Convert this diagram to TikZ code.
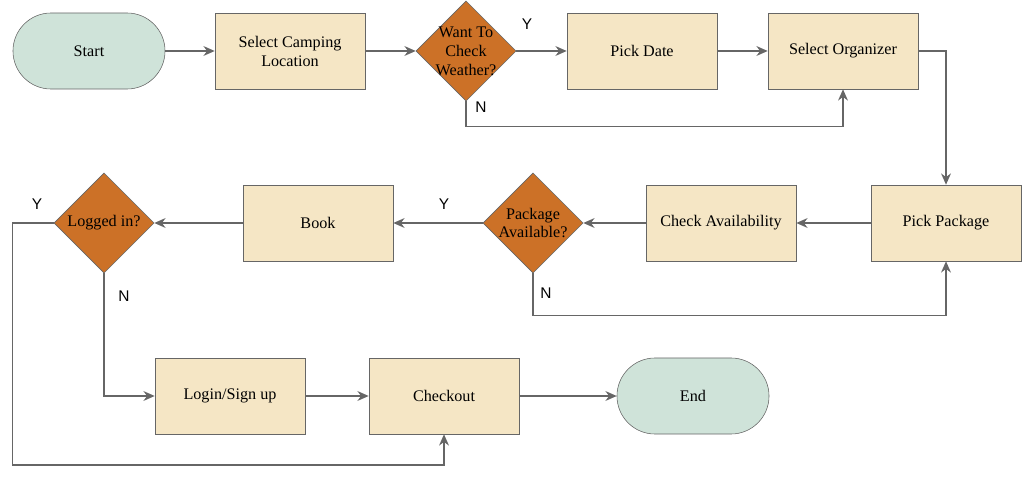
\documentclass[tikz,border=0pt]{standalone}
\usepackage{fontspec}
\setmainfont{Liberation Serif}
\newfontfamily\labelfont{Liberation Sans}
\usetikzlibrary{arrows.meta, positioning, shapes.geometric}
\definecolor{boxfill}{HTML}{F5E6C5}
\definecolor{termfill}{HTML}{CFE3D9}
\definecolor{decfill}{HTML}{CC7127}
\definecolor{linegray}{HTML}{666666}

\begin{document}
\begin{tikzpicture}[
  x=0.025cm, y=-0.025cm,
  box/.style={rectangle, draw=linegray, fill=boxfill,
              minimum width=3.75cm, minimum height=1.9cm,
              align=center, font=\fontsize{11.5}{13.5}\selectfont},
  term/.style={rectangle, rounded corners=0.95cm, draw=linegray, fill=termfill,
               minimum width=3.8cm, minimum height=1.9cm,
               font=\fontsize{11.5}{13.5}\selectfont},
  decision/.style={diamond, aspect=1, draw=linegray, fill=decfill,
                   minimum width=2.5cm, minimum height=2.5cm, inner sep=0pt},
  qtext/.style={align=center, font=\fontsize{11.5}{13.5}\selectfont},
  flow/.style={draw=linegray, line width=1pt, -{Stealth[length=8pt, width=7pt]}},
  yn/.style={font=\labelfont\fontsize{11}{13}\selectfont}
]
\useasboundingbox (0,0) rectangle (1024,478);

% first row
\node[term] (start) at (89,51) {Start};
\node[box] (loc) at (290,51) {Select Camping\\Location};
\node[decision, label={[qtext]center:{Want To\\Check\\Weather?}}] (weather) at (466,51) {};
\node[box] (date) at (642,51) {Pick Date};
\node[box] (org) at (843,51) {Select Organizer};

% second row
\node[box] (pack) at (946,223) {Pick Package};
\node[box] (avail) at (721,223) {Check Availability};
\node[decision, label={[qtext]center:{Package\\Available?}}] (pkgq) at (533,223) {};
\node[box] (book) at (318,223) {Book};
\node[decision, label={[qtext]center:{Logged in?}}] (logged) at (104,223) {};

% third row
\node[box] (login) at (230,396) {Login/Sign up};
\node[box] (checkout) at (444,396) {Checkout};
\node[term] (end) at (693,396) {End};

% Y / N labels
\node[yn] (wy) at (527,24) {Y};
\node[yn] (wn) at (481,107) {N};
\node[yn] (py) at (444,204) {Y};
\node[yn] (pn) at (546,293) {N};
\node[yn] (ly) at (37,204) {Y};
\node[yn] (ln) at (124,296) {N};

% connectors
\draw[flow] (start) -- (loc);
\draw[flow] (loc) -- (weather);
\draw[flow] (weather) -- (date);
\draw[flow] (weather.south) -- ++(0,25) -| (org.south);
\draw[flow] (date) -- (org);
\draw[flow] (org.east) -| (pack.north);
\draw[flow] (pack) -- (avail);
\draw[flow] (avail) -- (pkgq);
\draw[flow] (pkgq) -- (book);
\draw[flow] (pkgq.south) -- ++(0,42) -| (pack.south);
\draw[flow] (book) -- (logged);
\draw[flow] (logged.west) -| ++(-41,242) -| (checkout.south);
\draw[flow] (logged.south) |- (login.west);
\draw[flow] (login) -- (checkout);
\draw[flow] (checkout) -- (end);
\end{tikzpicture}
\end{document}
